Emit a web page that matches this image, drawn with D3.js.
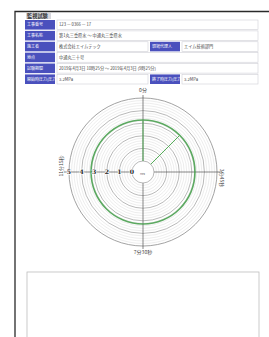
<!DOCTYPE html>
<html>
<head>
<meta charset="utf-8">
<script src="https://cdn.jsdelivr.net/npm/d3@7"></script>
<style>
  html, body { margin: 0; padding: 0; background: #fff; }
  svg { display: block; font-family: "Noto Sans CJK JP", "Noto Sans", sans-serif; }
</style>
</head>
<body>
<svg id="chart" width="269" height="337"></svg>
<script>
// table contents
const rowLabels = ["工事番号", "工事名称", "施工者", "地点", "試験期間", "開始時圧力(圧力)"];
const rowValues = ["123 — 0366 — 17", "第1丸三重県水 ～ 中通丸三重県水", "株式会社エイムテック", "中通丸三十号",
                   "2019年4月3日 10時25分 ～ 2019年4月3日 (9時25分)", "3.2MPa"];
const sideLabels = {2: "現場代理人", 5: "終了時圧力(圧力)"};
const sideValues = {2: "エイム技術部門", 5: "3.2MPa"};

// recorder chart
const pressureTicks = [0, 1, 2, 3, 4, 5];
const timeLabels = ["0分", "3分45秒", "7分30秒", "11分15秒"];
const timeLabelAt = [0, 3.75, 7.5, 11.25];
const holdStart = 0, holdEnd = 16.875;   // minutes
const holdPressure = 3.25;                // MPa

const svg = d3.select("#chart");

// page edge
svg.append("path")
  .attr("d", "M15,337V11.5H269")
  .attr("fill", "none").attr("stroke", "#2a2a2a").attr("stroke-width", 1.3);

svg.append("rect").attr("x", 26).attr("y", 13).attr("width", 25).attr("height", 6).attr("fill", "#d6d6dc");
svg.append("text").attr("x", 27).attr("y", 18)
  .attr("font-size", 5.2).attr("font-weight", "bold").attr("fill", "#333").text("監視試験");

// table
const rowY = d3.scaleBand().domain(d3.range(rowLabels.length)).range([20, 84]).paddingInner(0.12);
const labelBlue = "#4a50bd";

const rows = svg.append("g").selectAll("g").data(rowLabels).join("g")
  .attr("transform", (d, i) => `translate(0,${rowY(i)})`);

rows.append("rect").attr("x", 25).attr("width", 30).attr("height", rowY.bandwidth()).attr("fill", labelBlue);
rows.append("text").attr("x", 27).attr("y", rowY.bandwidth() / 2 + 1.5)
  .attr("font-size", 4).attr("fill", "#fff").text(d => d);

rows.append("rect").attr("x", 57)
  .attr("width", (d, i) => sideLabels[i] ? 91 : 201)
  .attr("height", rowY.bandwidth())
  .attr("fill", "#fff").attr("stroke", "#cfcfd6").attr("stroke-width", 0.6);
rows.append("text").attr("x", 59).attr("y", rowY.bandwidth() / 2 + 1.6)
  .attr("font-size", 4.2).attr("fill", "#444").text((d, i) => rowValues[i]);

const side = rows.filter((d, i) => sideLabels[i] != null);
side.append("rect").attr("x", 150).attr("width", 30).attr("height", rowY.bandwidth()).attr("fill", labelBlue);
side.append("text").attr("x", 152).attr("y", rowY.bandwidth() / 2 + 1.5)
  .attr("font-size", 4).attr("fill", "#fff").text(d => sideLabels[rowLabels.indexOf(d)]);
side.append("rect").attr("x", 182).attr("width", 76).attr("height", rowY.bandwidth())
  .attr("fill", "#fff").attr("stroke", "#cfcfd6").attr("stroke-width", 0.6);
side.append("text").attr("x", 184).attr("y", rowY.bandwidth() / 2 + 1.6)
  .attr("font-size", 4.2).attr("fill", "#444").text(d => sideValues[rowLabels.indexOf(d)]);

// polar chart
const cx = 143, cy = 172;
const r = d3.scaleLinear().domain([0, 5]).range([11, 74]);
const a = d3.scaleLinear().domain([0, 15]).range([0, 2 * Math.PI]);
const g = svg.append("g").attr("transform", `translate(${cx},${cy})`);

const minor = d3.range(0, 5.001, 0.2).filter(v => Math.abs(v - Math.round(v)) > 1e-6);
g.selectAll("circle.minor").data(minor).join("circle").attr("class", "minor")
  .attr("r", d => r(d)).attr("fill", "none").attr("stroke", "#d2d2d2").attr("stroke-width", 0.4);
g.selectAll("circle.major").data(pressureTicks.slice(1)).join("circle").attr("class", "major")
  .attr("r", d => r(d)).attr("fill", "none").attr("stroke", "#8a8a8a")
  .attr("stroke-width", d => d === 5 ? 0.8 : 0.6);

// cross hair
g.append("line").attr("x1", 0).attr("x2", 0).attr("y1", -r(5) - 3).attr("y2", r(5) + 3)
  .attr("stroke", "#555").attr("stroke-width", 0.7);
g.append("line").attr("y1", 0).attr("y2", 0).attr("x1", -r(5) - 5).attr("x2", r(5) + 5)
  .attr("stroke", "#555").attr("stroke-width", 0.7);

g.append("circle").attr("r", r(0)).attr("fill", "#fff").attr("stroke", "#8a8a8a").attr("stroke-width", 0.6);

// recorded pressure
const green = "#3f9a45";
const hold = d3.arc().innerRadius(r(holdPressure) - 0.8).outerRadius(r(holdPressure) + 0.8);
g.append("path")
  .attr("d", hold({startAngle: a(holdStart), endAngle: a(holdEnd)}))
  .attr("fill", green).attr("fill-opacity", 0.85);
g.selectAll("line.step").data([holdStart, holdEnd]).join("line").attr("class", "step")
  .attr("x1", t => r(0) * Math.sin(a(t))).attr("y1", t => -r(0) * Math.cos(a(t)))
  .attr("x2", t => r(holdPressure) * Math.sin(a(t))).attr("y2", t => -r(holdPressure) * Math.cos(a(t)))
  .attr("stroke", "#56ad5a").attr("stroke-width", 1);

// pressure labels
g.selectAll("text.p").data(pressureTicks).join("text").attr("class", "p")
  .attr("x", d => -r(d)).attr("y", 2.2)
  .attr("text-anchor", "middle").attr("font-size", 6.2).attr("font-weight", "bold")
  .attr("font-family", "DejaVu Serif, serif")
  .attr("fill", "#2a2a2a").attr("stroke", "#fff").attr("stroke-width", 1.2).attr("paint-order", "stroke")
  .text(d => d);
g.append("text").attr("x", -3).attr("y", 3).attr("font-size", 2.6).attr("fill", "#555").text("MPa");

// time labels
g.selectAll("text.t").data(timeLabels).join("text").attr("class", "t")
  .attr("font-size", 5).attr("fill", "#444").attr("text-anchor", "middle")
  .attr("transform", (d, i) => {
    const ang = a(timeLabelAt[i]);
    const rr = r(5) + 5;
    const x = rr * Math.sin(ang), y = -rr * Math.cos(ang);
    if (i === 0) return `translate(${x},${y - 1})`;
    if (i === 2) return `translate(${x},${y + 3})`;
    if (i === 1) return `translate(${x - 2},${y + 6}) rotate(90)`;
    return `translate(${x - 1.5},${y - 6}) rotate(-90)`;
  })
  .text(d => d);

// lower box
svg.append("rect").attr("x", 27).attr("y", 272).attr("width", 232).attr("height", 80)
  .attr("fill", "#fff").attr("stroke", "#bdbdbd").attr("stroke-width", 0.8);
</script>
</body>
</html>
